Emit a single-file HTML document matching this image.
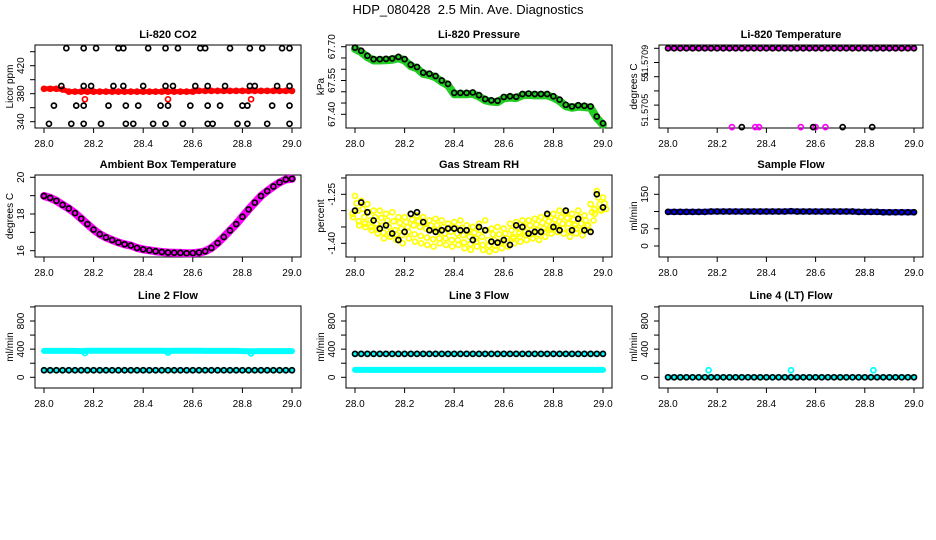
<!DOCTYPE html>
<html><head><meta charset="utf-8"><style>
html,body{margin:0;padding:0;background:#fff}
svg{display:block;font-family:"Liberation Sans",Arial,sans-serif}
</style></head><body>
<svg id="chart" width="936" height="540" viewBox="0 0 936 540" xmlns="http://www.w3.org/2000/svg">
<rect width="936" height="540" fill="#fff"/>
<text x="468" y="14" text-anchor="middle" font-size="13">HDP_080428&#160; 2.5 Min. Ave. Diagnostics</text>
</svg>
<script>
// ---- data ----
const times = [28.000,28.025,28.050,28.075,28.100,28.125,28.150,28.175,28.200,28.225,28.250,28.275,28.300,28.325,28.350,28.375,28.400,28.425,28.450,28.475,28.500,28.525,28.550,28.575,28.600,28.625,28.650,28.675,28.700,28.725,28.750,28.775,28.800,28.825,28.850,28.875,28.900,28.925,28.950,28.975,29.000];
const xTicks = [28.0,28.2,28.4,28.6,28.8,29.0];
const xTickLabels = ["28.0","28.2","28.4","28.6","28.8","29.0"];

const co2Red = [387,387,387,386,383,383,383,383,383,383,383,383,383,383,383,383,383,383,383,383,383,383,383,383,383,384,384,384,384,384,384,384,384,384,384,384,384,384,384,384,384];
const co2OutT = [28.165,28.50,28.835];
const co2OutV = [372,372,372];
const co2BlackT = [28.09,28.16,28.21,28.30,28.32,28.42,28.49,28.54,28.63,28.65,28.75,28.83,28.88,28.96,28.99,
 28.07,28.16,28.19,28.28,28.32,28.40,28.49,28.52,28.61,28.66,28.73,28.83,28.85,28.94,28.99,
 28.04,28.13,28.16,28.26,28.33,28.38,28.47,28.50,28.59,28.66,28.71,28.80,28.82,28.92,28.99,
 28.02,28.11,28.16,28.23,28.33,28.36,28.44,28.49,28.56,28.66,28.68,28.78,28.82,28.90,28.99];
const co2BlackV = [445,445,445,445,445,445,445,445,445,445,445,445,445,445,445,
 391,391,391,391,391,391,391,391,391,391,391,391,391,391,391,
 363,363,363,363,363,363,363,363,363,363,363,363,363,363,363,
 337,337,337,337,337,337,337,337,337,337,337,337,337,337,337];

const pressure = [67.696,67.682,67.66,67.645,67.645,67.646,67.648,67.655,67.645,67.62,67.61,67.585,67.58,67.57,67.55,67.535,67.495,67.495,67.495,67.497,67.485,67.468,67.462,67.46,67.477,67.48,67.478,67.49,67.492,67.49,67.49,67.49,67.48,67.465,67.442,67.435,67.44,67.438,67.435,67.39,67.36];

const tempTop = [51.5709,51.5709,51.5709,51.5709,51.5709,51.5709,51.5709,51.5709,51.5709,51.5709,51.5709,51.5709,51.5709,51.5709,51.5709,51.5709,51.5709,51.5709,51.5709,51.5709,51.5709,51.5709,51.5709,51.5709,51.5709,51.5709,51.5709,51.5709,51.5709,51.5709,51.5709,51.5709,51.5709,51.5709,51.5709,51.5709,51.5709,51.5709,51.5709,51.5709,51.5709];
const tempMagOutT = [28.26,28.355,28.37,28.54,28.60,28.64];
const tempBlkOutT = [28.30,28.59,28.71,28.83];
const tempLow = 51.570789;

const ambient = [18.98,18.88,18.72,18.5,18.3,18.05,17.75,17.45,17.15,16.9,16.72,16.58,16.45,16.35,16.28,16.15,16.07,16.02,15.97,15.93,15.9,15.89,15.88,15.86,15.87,15.9,15.97,16.15,16.42,16.75,17.1,17.45,17.85,18.25,18.62,18.98,19.25,19.5,19.72,19.88,19.92];

const rhBlack = [-1.30,-1.275,-1.305,-1.33,-1.355,-1.345,-1.37,-1.39,-1.365,-1.31,-1.305,-1.335,-1.36,-1.365,-1.36,-1.355,-1.355,-1.36,-1.36,-1.39,-1.35,-1.36,-1.395,-1.398,-1.39,-1.405,-1.345,-1.35,-1.37,-1.365,-1.365,-1.31,-1.35,-1.36,-1.30,-1.36,-1.325,-1.36,-1.365,-1.25,-1.29];
const rhYellowA = [-1.255,-1.27,-1.28,-1.30,-1.30,-1.31,-1.305,-1.32,-1.32,-1.31,-1.315,-1.32,-1.33,-1.325,-1.33,-1.34,-1.335,-1.33,-1.345,-1.35,-1.34,-1.33,-1.355,-1.35,-1.355,-1.34,-1.335,-1.33,-1.33,-1.325,-1.32,-1.315,-1.31,-1.30,-1.305,-1.31,-1.30,-1.315,-1.28,-1.24,-1.26];
const rhYellowB = [-1.30,-1.32,-1.33,-1.34,-1.345,-1.35,-1.36,-1.355,-1.35,-1.345,-1.35,-1.355,-1.36,-1.365,-1.37,-1.365,-1.37,-1.375,-1.38,-1.385,-1.38,-1.39,-1.39,-1.395,-1.385,-1.38,-1.37,-1.365,-1.36,-1.36,-1.355,-1.35,-1.345,-1.34,-1.34,-1.345,-1.34,-1.345,-1.33,-1.28,-1.295];
const rhYellowC = [-1.32,-1.345,-1.35,-1.36,-1.37,-1.385,-1.38,-1.39,-1.40,-1.385,-1.395,-1.40,-1.405,-1.41,-1.40,-1.405,-1.41,-1.405,-1.415,-1.42,-1.41,-1.42,-1.425,-1.42,-1.415,-1.41,-1.40,-1.395,-1.39,-1.385,-1.39,-1.38,-1.37,-1.365,-1.37,-1.38,-1.37,-1.375,-1.36,-1.31,-1.30];

const sampleFlow = [99,99,99,99,99,99,99,100,100,100,100,100,100,100,100,100,100,100,100,100,101,100,100,100,100,100,100,100,100,100,100,99,99,99,99,98,98,98,98,98,98];

const line2Cyan = [375,375,375,375,375,375,372,378,378,378,378,378,378,378,378,378,378,378,378,378,375,378,378,378,378,378,375,375,375,375,375,375,372,370,370,372,372,372,372,372,372];
const line2Black = [100,100,100,100,100,100,100,100,100,100,100,100,100,100,100,100,100,100,100,100,100,100,100,100,100,100,100,100,100,100,100,100,100,100,100,100,100,100,100,100,100];
const line2Dips = [28.165,28.50,28.835];
const line2DipV = [345,350,340];

const line3CyanLow = [105,105,105,105,105,105,105,105,105,105,105,105,105,105,105,105,105,105,105,105,105,105,105,105,105,105,105,105,105,105,105,105,105,105,105,105,105,105,105,105,105];
const line3Black = [333,333,333,333,333,333,333,333,333,333,333,333,333,333,333,333,333,333,333,333,333,333,333,333,333,333,333,333,333,333,333,333,333,333,333,333,333,333,333,333,333];

const line4Black = [0,0,0,0,0,0,0,0,0,0,0,0,0,0,0,0,0,0,0,0,0,0,0,0,0,0,0,0,0,0,0,0,0,0,0,0,0,0,0,0,0];
const line4OutT = [28.165,28.50,28.835];
const line4OutV = [100,100,100];

// ---- drawing ----
const svg = document.getElementById('chart');
const NS = 'http://www.w3.org/2000/svg';
function mk(tag, attrs, parent){
  const el = document.createElementNS(NS, tag);
  for (const k in attrs) el.setAttribute(k, attrs[k]);
  (parent||svg).appendChild(el);
  return el;
}
function makePanel(name, title, ylab, L, R, T, B, y0v, y0p, y1v, y1p, yTicks, yLabels){
  const g = mk('g', {});
  
  
  const xs = v => (L+9) + (v-28)*((R-9)-(L+9));
  const ys = v => y0p + (v-y0v)*(y1p-y0p)/(y1v-y0v);
  const box = mk('rect', {x:L, y:T, width:R-L, height:B-T, fill:'none', stroke:'#000', 'stroke-width':1}, g);
  
  
  const tt = mk('text', {x:(L+R)/2, y:T-7, 'text-anchor':'middle', 'font-size':11, 'font-weight':'bold'}, g);
  tt.textContent = title;
  
  
  const xa = mk('g', {}, g);
  
  
  mk('line', {x1:xs(xTicks[0]), x2:xs(xTicks[xTicks.length-1]), y1:B, y2:B, stroke:'#000'}, xa);
  xTicks.forEach((v,i)=>{
    mk('line', {x1:xs(v), x2:xs(v), y1:B, y2:B+5, stroke:'#000'}, xa);
    const t = mk('text', {x:xs(v), y:B+19, 'text-anchor':'middle', 'font-size':10}, xa);
    t.textContent = xTickLabels[i];
  });
  const ya = mk('g', {}, g);
  
  
  mk('line', {x1:L, x2:L, y1:ys(yTicks[0]), y2:ys(yTicks[yTicks.length-1]), stroke:'#000'}, ya);
  yTicks.forEach(v=>{
    mk('line', {x1:L-5, x2:L, y1:ys(v), y2:ys(v), stroke:'#000'}, ya);
  });
  yLabels.forEach(([v,lab,fs])=>{
    const yy = ys(v);
    const t = mk('text', {x:0, y:0, transform:`translate(${L-11},${yy}) rotate(-90)`, 'text-anchor':'middle', 'font-size':fs||10}, ya);
    t.textContent = lab;
  });
  const yl = mk('text', {x:0, y:0, transform:`translate(${L-22},${(T+B)/2}) rotate(-90)`, 'text-anchor':'middle', 'font-size':10}, g);
  yl.textContent = ylab;
  
  
  return {g, xs, ys};
}
function band(p, tArr, vArr, color, w, name){
  const pts = tArr.map((t,i)=>p.xs(t)+','+p.ys(vArr[i])).join(' ');
  const pl = mk('polyline', {points:pts, fill:'none', stroke:color, 'stroke-width':w, 'stroke-linejoin':'round', 'stroke-linecap':'round'}, p.g);
  
  
}
function circles(p, tArr, vArr, color, name, r, sw){
  const g = mk('g', {}, p.g);
  
  
  tArr.forEach((t,i)=>{
    mk('circle', {cx:p.xs(t), cy:p.ys(vArr[i]), r:r||2.5, fill:'none', stroke:color, 'stroke-width':sw||1.7}, g);
  });
}

// Panel 1: CO2
let p = makePanel('panel-co2','Li-820 CO2','Licor ppm',35,301,45,128,340,121.7,420,65.7,[340,360,380,400,420,440],[[340,'340'],[380,'380'],[420,'420']]);
band(p, times, co2Red, '#ff0000', 5, 'co2-red-series');
circles(p, times, co2Red, '#ff0000', 'co2-red-points');
circles(p, co2OutT, co2OutV, '#ff0000', 'co2-red-outliers');
circles(p, co2BlackT, co2BlackV, '#000', 'co2-black-points');

// Panel 2: Pressure
p = makePanel('panel-pressure','Li-820 Pressure','kPa',346,612,45,128,67.40,114.3,67.70,46.7,[67.40,67.45,67.50,67.55,67.60,67.65,67.70],[[67.40,'67.40'],[67.55,'67.55'],[67.70,'67.70']]);
band(p, times, pressure.map(v=>v-0.006), '#22cc22', 8, 'pressure-green-series');
circles(p, times, pressure, '#000', 'pressure-black-points');

// Panel 3: Temperature
p = makePanel('panel-li820-temp','Li-820 Temperature','degrees C',659,923,45,128,51.5708,119.3,51.5709,48.3,[51.57080,51.57082,51.57084,51.57086,51.57088,51.57090],[[51.570882,'51.5709',9],[51.57086,'51',9],[51.570813,'51.5705',9]]);
band(p, times, tempTop, '#ff00ff', 5, 'temp-magenta-series');
circles(p, times, tempTop, '#000', 'temp-black-points');
circles(p, tempMagOutT, tempMagOutT.map(()=>tempLow), '#ff00ff', 'temp-magenta-outliers');
circles(p, tempBlkOutT, tempBlkOutT.map(()=>tempLow), '#000', 'temp-black-outliers');

// Panel 4: Ambient
p = makePanel('panel-ambient','Ambient Box Temperature','degrees C',35,301,175,257,16,250.7,20,177.3,[16,17,18,19,20],[[16,'16'],[18,'18'],[20,'20']]);
band(p, times, ambient, '#ff00ff', 8, 'ambient-magenta-series');
circles(p, times, ambient, '#000', 'ambient-black-points');

// Panel 5: RH
p = makePanel('panel-rh','Gas Stream RH','percent',346,612,175,257,-1.40,243.3,-1.25,194.3,[-1.40,-1.35,-1.30,-1.25,-1.20],[[-1.40,'-1.40'],[-1.25,'-1.25']]);
circles(p, times, rhYellowA, '#ffff00', 'rh-yellow-upper', 2.5, 1.7);
circles(p, times.map(t=>t+0.012), rhYellowB, '#ffff00', 'rh-yellow-mid', 2.5, 1.7);
circles(p, times.map(t=>t-0.008), rhYellowC, '#ffff00', 'rh-yellow-lower', 2.5, 1.7);
circles(p, times.map(t=>t+0.006), rhYellowA.map((v,i)=>(v+rhYellowB[i])/2), '#ffff00', 'rh-yellow-fill1', 2.5, 1.7);
circles(p, times.map(t=>t-0.01), rhYellowB.map((v,i)=>(v+rhYellowC[i])/2), '#ffff00', 'rh-yellow-fill2', 2.5, 1.7);
circles(p, times, rhBlack, '#000', 'rh-black-points');

// Panel 6: Sample flow
p = makePanel('panel-sample-flow','Sample Flow','ml/min',659,923,175,257,0,246,150,194.3,[0,50,100,150,200],[[0,'0'],[50,'50'],[150,'150']]);
band(p, times, sampleFlow, '#0000ff', 6, 'sample-blue-series');
circles(p, times, sampleFlow, '#000', 'sample-black-points');

// Panel 7: Line 2
p = makePanel('panel-line2','Line 2 Flow','ml/min',35,301,306,388,0,377.3,800,321,[0,200,400,600,800,1000],[[0,'0'],[400,'400'],[800,'800']]);
band(p, times, line2Cyan, '#00ffff', 6, 'line2-cyan-series');
circles(p, line2Dips, line2DipV, '#00ffff', 'line2-cyan-dips');
band(p, times, line2Black, '#00ffff', 5, 'line2-cyan-low');
circles(p, times, line2Black, '#000', 'line2-black-points');

// Panel 8: Line 3
p = makePanel('panel-line3','Line 3 Flow','ml/min',346,612,306,388,0,377.3,800,321,[0,200,400,600,800,1000],[[0,'0'],[400,'400'],[800,'800']]);
band(p, times, line3CyanLow, '#00ffff', 6, 'line3-cyan-low');
band(p, times, line3Black, '#00ffff', 5, 'line3-cyan-high');
circles(p, times, line3Black, '#000', 'line3-black-points');

// Panel 9: Line 4
p = makePanel('panel-line4','Line 4 (LT) Flow','ml/min',659,923,306,388,0,377.3,800,321,[0,200,400,600,800,1000],[[0,'0'],[400,'400'],[800,'800']]);
band(p, times, line4Black, '#00ffff', 5, 'line4-cyan-series');
circles(p, line4OutT, line4OutV, '#00ffff', 'line4-cyan-outliers');
circles(p, times, line4Black, '#000', 'line4-black-points');
</script>
</body></html>
